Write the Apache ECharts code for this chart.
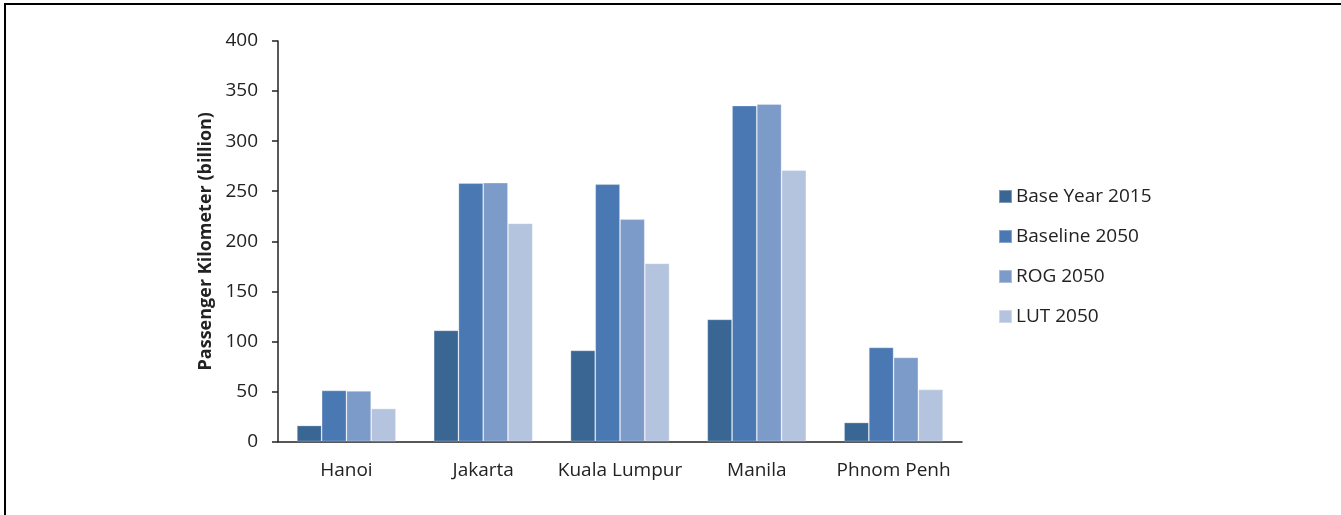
<!DOCTYPE html>
<html>
<head>
<meta charset="utf-8">
<script src="https://cdn.jsdelivr.net/npm/echarts@6/dist/echarts.min.js"></script>
<style>
  html, body { margin: 0; padding: 0; background: #fff; }
  #chart { width: 1341px; height: 515px; }
</style>
</head>
<body>
<div id="chart"></div>
<script>
// Passenger kilometres by city, base year and 2050 scenarios
const cities = ['Hanoi', 'Jakarta', 'Kuala Lumpur', 'Manila', 'Phnom Penh'];
const baseYear2015 = [16, 111, 91, 122, 19];
const baseline2050 = [51, 258, 257, 335.5, 94];
const rog2050 = [50.5, 258.5, 222, 337, 84];
const lut2050 = [33, 218, 178, 271, 52];
const seriesNames = ['Base Year 2015', 'Baseline 2050', 'ROG 2050', 'LUT 2050'];
const seriesColors = ['#3A6694', '#4A78B3', '#7D9BC9', '#B5C4DE'];

const font = '"Open Sans", "Noto Sans", sans-serif';
const chart = echarts.init(document.getElementById('chart'), null, { renderer: 'canvas' });

const dataSets = [baseYear2015, baseline2050, rog2050, lut2050];

chart.setOption({
  animation: false,
  backgroundColor: '#fff',
  textStyle: { fontFamily: font, color: '#222' },
  grid: { left: 278, right: 379, top: 41, bottom: 73.5, containLabel: false },
  legend: {
    orient: 'vertical',
    left: 998,
    top: 187,
    padding: 0,
    itemWidth: 13,
    itemHeight: 13,
    itemGap: 21,
    icon: 'rect',
    data: seriesNames,
    textStyle: { fontFamily: font, fontSize: 19, color: '#222', lineHeight: 19, padding: [0, 0, 0, -1] }
  },
  xAxis: {
    type: 'category',
    data: cities,
    axisLine: { lineStyle: { color: '#222', width: 1.5 } },
    axisTick: { show: false },
    axisLabel: { fontFamily: font, fontSize: 19, color: '#222', margin: 20, interval: 0 }
  },
  yAxis: {
    type: 'value',
    min: 0,
    max: 400,
    interval: 50,
    name: 'Passenger Kilometer (billion)',
    nameLocation: 'middle',
    nameGap: 62,
    nameTextStyle: { fontFamily: font, fontSize: 18, fontWeight: 'bold', color: '#222' },
    axisLine: { show: true, lineStyle: { color: '#222', width: 1.5 } },
    axisTick: { show: true, length: 6, lineStyle: { color: '#222', width: 1.5 } },
    splitLine: { show: false },
    axisLabel: { fontFamily: font, fontSize: 19, color: '#222', margin: 20 }
  },
  series: seriesNames.map((name, i) => ({
    name: name,
    type: 'bar',
    data: dataSets[i],
    barGap: '0%',
    barCategoryGap: '27.6%',
    itemStyle: {
      color: seriesColors[i],
      borderColor: 'rgba(255,255,255,0.35)',
      borderWidth: 0.8
    }
  })),
  graphic: [
    { type: 'rect', shape: { x: 4, y: 3, width: 1337, height: 2 }, style: { fill: '#000' }, silent: true },
    { type: 'rect', shape: { x: 4, y: 3, width: 2, height: 512 }, style: { fill: '#000' }, silent: true }
  ]
});
</script>
</body>
</html>
